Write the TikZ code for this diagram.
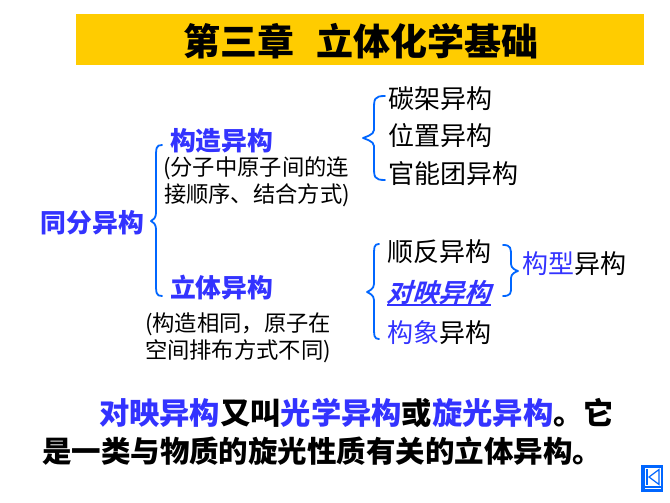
\documentclass[tikz,border=0pt]{standalone}
\usepackage{fontspec}
\setmainfont{Noto Sans CJK SC}
\newfontfamily\slantfont[FakeSlant=0.3,BoldFont={Noto Sans CJK SC Bold},BoldFeatures={FakeSlant=0.3}]{Noto Sans CJK SC}
\definecolor{titlebar}{HTML}{FFCC00}
\definecolor{headblue}{HTML}{3333FF}
\definecolor{braceblue}{HTML}{0066FF}
\newcommand{\fsize}[1]{\fontsize{#1}{#1}\selectfont}
\tikzset{
  lbl/.style={anchor=west,inner sep=0pt,outer sep=0pt},
  bigbold/.style={lbl,font=\fsize{25.8}\bfseries,text=headblue},
  plain/.style={lbl,font=\fsize{26}},
  small/.style={lbl,font=\fsize{22.3}},
  closing/.style={lbl,font=\fsize{30.3}\bfseries},
  bracket/.style={draw=braceblue,line width=1.8pt,line cap=round,line join=round}
}
% end, spine, tip and other end of a brace
\newcommand{\leftbrace}[7]{%
  \draw[bracket] (#1,#3) .. controls (#2,#3) and (#2,#3+3) .. (#2,#3+14)
    -- (#2,#5-8) .. controls (#2,#5-3) and (#4+2,#5-1) .. (#4,#5)
    .. controls (#4+2,#5+1) and (#2,#5+3) .. (#2,#5+8)
    -- (#2,#6-14) .. controls (#2,#6-3) and (#2,#6) .. (#7,#6);}
\begin{document}
\begin{tikzpicture}[x=1pt,y=-1pt]
\useasboundingbox (0,0) rectangle (670,503);
  \fill[titlebar] (76,14) rectangle (644,65);
  \node[anchor=center,inner sep=0pt,font=\fsize{37}\bfseries] (title) at (361,41) {第三章\hspace{0.6em}立体化学基础};
  % left part
  \node[bigbold] (root) at (41,223) {同分异构};
  \node[bigbold] (struct) at (170,141) {构造异构};
  \node[bigbold] (stereo) at (170,288) {立体异构};
  \node[small] (note1a) at (163,168) {(分子中原子间的连};
  \node[small] (note1b) at (164,195) {接顺序、结合方式)};
  \node[small] (note2a) at (145,324) {(构造相同，原子在};
  \node[small] (note2b) at (145,351) {空间排布方式不同)};
  \leftbrace{162}{156}{145}{151}{221}{296}{162}
  % upper list
  \node[plain] (carbon) at (388,99) {碳架异构};
  \node[plain] (place) at (388,136) {位置异构};
  \node[plain] (group) at (388,174) {官能团异构};
  \leftbrace{385}{374}{96}{363}{138}{180}{385}
  % lower list
  \node[plain] (cistrans) at (387,252) {顺反异构};
  \node[lbl,font=\fsize{26}\slantfont\bfseries,text=headblue] (mirror) at (386,293) {对映异构};
  \draw[headblue,line width=1.4pt] (mirror.west) ++(1,12) -- ++(104,0);
  \node[plain] (conform) at (387,333) {\textcolor{headblue}{构象}异构};
  \leftbrace{379}{374}{244}{367}{292}{339}{379}
  \draw[bracket] (503,245) .. controls (511,245) and (511,248) .. (511,257)
    -- (511,264) .. controls (511,268) and (515,270) .. (518,271)
    .. controls (515,272) and (511,274) .. (511,278)
    -- (511,287) .. controls (511,293) and (511,296) .. (503,296);
  \node[plain] (config) at (522,264) {\textcolor{headblue}{构型}异构};
  % closing text
  \node[closing] (line1) at (99,413) {\textcolor{headblue}{对映异构}又叫\textcolor{headblue}{光学异构}或\textcolor{headblue}{旋光异构}。它};
  \node[closing,font=\fsize{29.5}\bfseries] (line2) at (42,451) {是一类与物质的旋光性质有关的立体异构。};
  % return button
  \fill[braceblue] (641,465) rectangle (663,492);
  \fill[white] (644.5,468) rectangle (660.5,486);
  \fill[white] (644.5,488) rectangle (660.5,489);
  \draw[braceblue,line width=1.2pt] (647,469) -- (647,485);
  \draw[braceblue,line width=1.2pt,line join=miter] (659,469.5) -- (649,477) -- (659,484.5) -- cycle;
\end{tikzpicture}
\end{document}
